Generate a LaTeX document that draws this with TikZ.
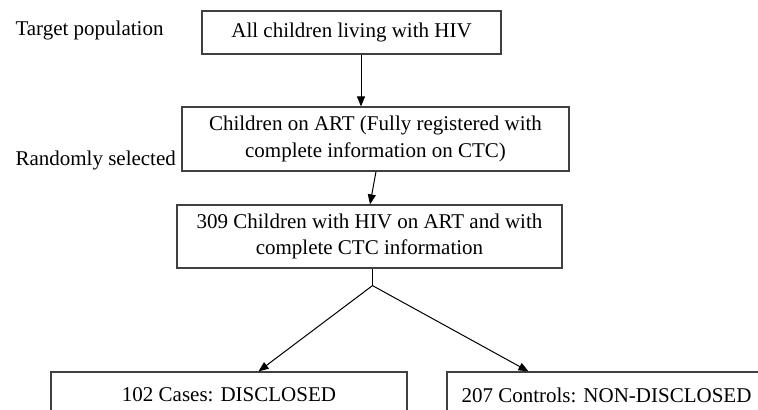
\documentclass[tikz,border=0pt]{standalone}
\usepackage{fontspec}
\setmainfont{Liberation Serif}
\usetikzlibrary{arrows.meta,calc}

\newcommand{\flowfont}{\fontsize{15.75pt}{20pt}\selectfont}
\tikzset{every picture/.style={line width=0.75pt}}
\tikzset{
  flowbox/.style={draw=black!75, line width=0.9pt, align=center, inner sep=0pt, font=\flowfont},
  sidetext/.style={anchor=base west, inner sep=0pt, font=\flowfont},
  arr/.style={draw=black, line width=0.75pt, -{Triangle[length=7.5pt,width=6pt]}},
}

\begin{document}
\begin{tikzpicture}[x=0.75pt,y=0.75pt,yscale=-1,xscale=1]
%set diagram left start at 0, width 758 and height 410
\useasboundingbox (0,0) rectangle (758,410);
\clip (0,0) rectangle (758,410);

% Text Node
\node [flowbox, minimum width=224.25pt, minimum height=32.25pt] (all) at (351.5,32.5) {All children living with HIV};
% Text Node
\node [flowbox, minimum width=290.25pt, minimum height=48pt] (art) at (375.5,139) {Children on ART (Fully registered with\\complete information on CTC)};
% Text Node
\node [flowbox, minimum width=288.75pt, minimum height=47.25pt] (pop) at (369.5,236.5) {309 Children with HIV on ART and with\\complete CTC information};
% Text Node
\node [flowbox, minimum width=267pt, minimum height=34.5pt] (cases) at (229,395) {102 Cases: DISCLOSED};
% Text Node
\node [flowbox, minimum width=239.25pt, minimum height=34.5pt] (ctrl) at (606.5,395) {207 Controls: NON-DISCLOSED};

% Text Node
\node [sidetext] (target) at (15,36) {Target population};
% Text Node
\node [sidetext] (random) at (15,166) {Randomly selected};

%Straight Lines
\draw [arr] ($(all.south)+(9.5,0)$) -- ($(art.north)+(-14.5,0)$);
%Straight Lines
\draw [arr] ($(art.south)+(0.5,0)$) -- ($(pop.north)+(0.5,0)$);
%Straight Lines
\coordinate (split) at ($(pop.south)+(3,17)$);
\draw ($(pop.south)+(3,0)$) -- (split);
\draw [arr] (split) -- ($(cases.north)+(29.5,0)$);
\draw [arr] (split) -- ($(ctrl.north)+(-78,0)$);

\end{tikzpicture}
\end{document}
